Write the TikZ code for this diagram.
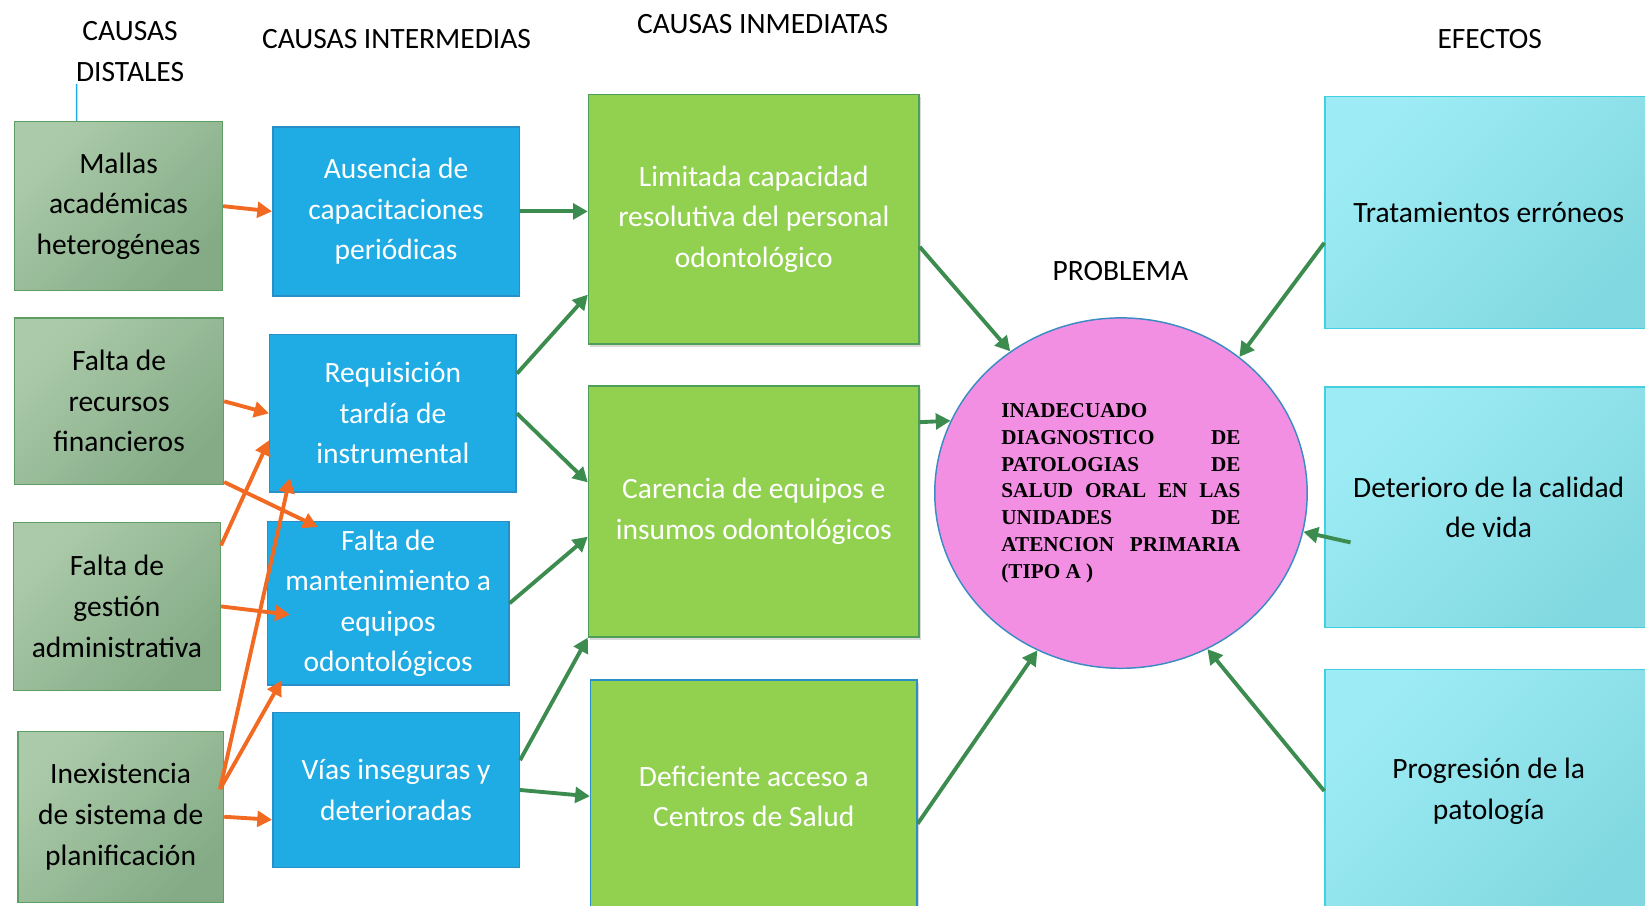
\documentclass[tikz,border=0pt]{standalone}
\usepackage{fontspec}
\setmainfont{Carlito}
\newfontfamily\serifb{Liberation Serif}
\usetikzlibrary{arrows.meta,calc,shapes.geometric,shadows}
\definecolor{dgL}{HTML}{ABCAA9}
\definecolor{dgD}{HTML}{84AB86}
\definecolor{dgB}{HTML}{5E9E62}
\definecolor{bl}{HTML}{1FABE3}
\definecolor{blB}{HTML}{2A8FC6}
\definecolor{gr}{HTML}{92D050}
\definecolor{grB}{HTML}{4E9E5A}
\definecolor{pk}{HTML}{F38FE3}
\definecolor{pkB}{HTML}{3C8CC4}
\definecolor{cyL}{HTML}{9DECF5}
\definecolor{cyD}{HTML}{82D8E0}
\definecolor{cyB}{HTML}{42D0E0}
\definecolor{orA}{HTML}{F26A21}
\definecolor{grA}{HTML}{3D8C4F}
\tikzset{
  sz/.style 2 args={minimum width=#1*0.02cm, minimum height=#2*0.02cm},
  distal/.style={draw=dgB, line width=0.8pt, top color=dgL, bottom color=dgD, shading angle=45, text=black, align=center, inner sep=0pt},
  inter/.style={draw=blB, line width=0.8pt, fill=bl, text=white, align=center, inner sep=0pt},
  inmed/.style={draw=grB, line width=0.8pt, fill=gr, text=white, align=center, inner sep=0pt,
    drop shadow={shadow xshift=1pt, shadow yshift=-1.5pt, opacity=0.3}},
  efecto/.style={draw=cyB, line width=0.8pt, top color=cyL, bottom color=cyD, shading angle=45, text=black, align=center, inner sep=0pt},
  titulo/.style={text=black, align=center, inner sep=0pt},
  oarr/.style={draw=orA, line width=2.1pt, -{Triangle[length=8pt,width=8.5pt]}},
  garr/.style={draw=grA, line width=2.1pt, -{Triangle[length=8pt,width=8.5pt]}},
}
\begin{document}
\begin{tikzpicture}[x=0.02cm, y=-0.02cm, font=\fontsize{16}{22}\selectfont]
\useasboundingbox (0,0) rectangle (1568,863);

% titles
\node[titulo] (t1) at (124,49) {CAUSAS\\DISTALES};
\node[titulo] (t2) at (378,37) {CAUSAS INTERMEDIAS};
\node[titulo] (t3) at (727,23) {CAUSAS INMEDIATAS};
\node[titulo] (t4) at (1420,37) {EFECTOS};
\node[titulo] (t5) at (1068,258) {PROBLEMA};

% distal causes
\node[distal, sz={198}{161}] (mal) at (113,196.5) {Mallas\\académicas\\heterogéneas};
\node[distal, sz={199}{159}] (rec) at (113.5,382.5) {Falta de\\recursos\\financieros};
\node[distal, sz={197}{160}] (ges) at (111.5,578) {Falta de\\gestión\\administrativa};
\node[distal, sz={196}{163}] (ine) at (115,778.5) {Inexistencia\\de sistema de\\planificación};

% intermediate causes
\node[inter, sz={235}{161}] (aus) at (377.5,201.5) {Ausencia de\\capacitaciones\\periódicas};
\node[inter, sz={235}{150}] (req) at (374.5,394) {Requisición\\tardía de\\instrumental};
\node[inter, sz={230}{156}] (fmt) at (370,575) {Falta de\\mantenimiento a\\equipos\\odontológicos};
\node[inter, sz={235}{148}] (via) at (377.5,753) {Vías inseguras y\\deterioradas};

% immediate causes
\node[inmed, sz={315}{238}] (lim) at (718.5,209) {Limitada capacidad\\resolutiva del personal\\odontológico};
\node[inmed, sz={315}{239}] (car) at (718.5,487.5) {Carencia de equipos e\\insumos odontológicos};
\node[inmed, draw=blB, sz={311}{222}] (def) at (718.5,759) {Deficiente acceso a\\Centros de Salud};

% problem
\node[ellipse, draw=pkB, fill=pk, line width=0.8pt, sz={355}{334}, inner sep=0pt] (c) at (1068.5,470)
  {\parbox{4.56cm}{\serifb\bfseries\fontsize{11.5}{14.5}\selectfont
   INADECUADO\\
   DIAGNOSTICO\hfill DE\\
   PATOLOGIAS\hfill DE\\
   SALUD\hfill ORAL\hfill EN\hfill LAS\\
   UNIDADES\hfill DE\\
   ATENCION\hfill PRIMARIA\\
   (TIPO A )}};

% effects
\node[efecto, sz={312}{221}] (tra) at (1419,202.5) {Tratamientos erróneos};
\node[efecto, sz={312}{229}] (det) at (1419,483.5) {Deterioro de la calidad\\de vida};
\node[efecto, sz={312}{232}] (pro) at (1419,754) {Progresión de la\\patología};

% small cyan line
\coordinate (dtop) at (73,80);
\draw[bl, line width=0.8pt] (dtop) -- ($(mal.north west)!0.3!(mal.north east)$);

% orange arrows
\draw[oarr] (mal.east) -- (aus.west);
\draw[oarr] (rec.east) -- (req.west);
\draw[oarr] ($(rec.north east)!0.98!(rec.south east)$) -- ($(fmt.north west)!0.21!(fmt.north east)+(0,6)$);
\draw[oarr] ($(ges.north east)!0.14!(ges.south east)$) -- ($(req.north west)!0.67!(req.south west)$);
\draw[oarr] (ges.east) -- ($(fmt.west)+(22,11)$);
\draw[oarr] ($(ine.north east)!0.34!(ine.south east)+(-4,0)$) -- ($(req.south west)+(20,-14)$);
\draw[oarr] ($(ine.north east)!0.34!(ine.south east)+(-4,0)$) -- ($(fmt.south west)+(14,-5)$);
\draw[oarr] (ine.east) -- ($(via.north west)!0.69!(via.south west)$);

% green arrows
\draw[garr] (aus.east) -- (aus.east -| lim.west);
\draw[garr] ($(req.north east)!0.25!(req.south east)$) -- ($(lim.north west)!0.8!(lim.south west)$);
\draw[garr] (req.east) -- ($(car.north west)!0.385!(car.south west)$);
\draw[garr] (fmt.east) -- ($(car.north west)!0.6!(car.south west)$);
\draw[garr] ($(via.north east)!0.31!(via.south east)$) -- (car.south west);
\draw[garr] (via.east) -- (def.west);
\draw[garr] ($(lim.north east)!0.61!(lim.south east)$) -- (c.128);
\draw[garr] ($(car.north east)!0.146!(car.south east)$) -- (c.157);
\draw[garr] ($(def.north east)!0.617!(def.south east)$) -- (c.242);
\draw[garr] ($(tra.north west)!0.63!(tra.south west)$) -- (c.49);
\coordinate (detin) at ($(det.west)+(25,33.5)$);
\draw[garr] (detin) -- (c.-12);
\draw[garr] (pro.west) -- (c.-61);
\end{tikzpicture}
\end{document}
